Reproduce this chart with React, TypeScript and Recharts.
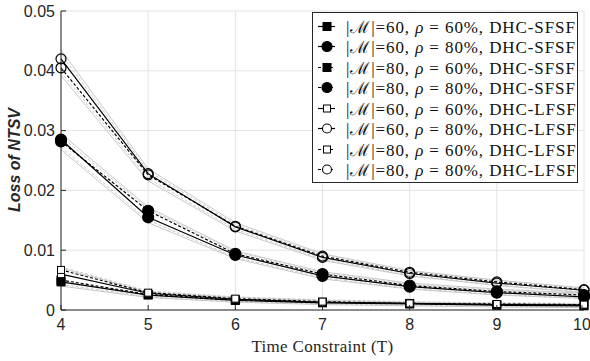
import React from 'react';
import { LineChart, Line, XAxis, YAxis, CartesianGrid } from 'recharts';

const timeT = [4, 5, 6, 7, 8, 9, 10];
const yTicks = [0, 0.01, 0.02, 0.03, 0.04, 0.05];

// main series
const m60r60SFSF = [0.0047, 0.0025, 0.0016, 0.0012, 0.0010, 0.0008, 0.0007];
const m60r80SFSF = [0.0285, 0.0155, 0.0092, 0.0057, 0.0039, 0.0029, 0.0022];
const m80r60SFSF = [0.0050, 0.0026, 0.0017, 0.0013, 0.0011, 0.0009, 0.0008];
const m80r80SFSF = [0.0282, 0.0166, 0.0094, 0.0060, 0.0041, 0.0031, 0.0025];
const m60r60LFSF = [0.0060, 0.0028, 0.0018, 0.0013, 0.0011, 0.0009, 0.0008];
const m60r80LFSF = [0.0420, 0.0228, 0.0139, 0.0088, 0.0061, 0.0045, 0.0033];
const m80r60LFSF = [0.0067, 0.0029, 0.0019, 0.0014, 0.0011, 0.0010, 0.0009];
const m80r80LFSF = [0.0405, 0.0226, 0.0140, 0.0090, 0.0063, 0.0047, 0.0034];

// light gray bound lines
const grayA1 = [0.0435, 0.0236, 0.0146, 0.0094, 0.0066, 0.0050, 0.0037];
const grayA2 = [0.0428, 0.0232, 0.0143, 0.0092, 0.0065, 0.0049, 0.0036];
const grayA3 = [0.0398, 0.0220, 0.0135, 0.0085, 0.0058, 0.0042, 0.0030];
const grayA4 = [0.0392, 0.0216, 0.0132, 0.0083, 0.0057, 0.0041, 0.0029];
const grayB1 = [0.0295, 0.0172, 0.0099, 0.0064, 0.0045, 0.0035, 0.0028];
const grayB2 = [0.0290, 0.0169, 0.0097, 0.0062, 0.0043, 0.0033, 0.0027];
const grayB3 = [0.0272, 0.0150, 0.0088, 0.0054, 0.0036, 0.0026, 0.0020];
const grayB4 = [0.0268, 0.0146, 0.0086, 0.0052, 0.0035, 0.0025, 0.0019];
const grayC1 = [0.0072, 0.0032, 0.0022, 0.0017, 0.0014, 0.0012, 0.0011];
const grayC2 = [0.0070, 0.0030, 0.0021, 0.0016, 0.0013, 0.0011, 0.0010];
const grayC3 = [0.0043, 0.0022, 0.0014, 0.0010, 0.0008, 0.0006, 0.0005];
const grayC4 = [0.0040, 0.0021, 0.0013, 0.0009, 0.0007, 0.0005, 0.0004];

const legendM = ['60', '60', '80', '80', '60', '60', '80', '80'];
const legendRho = ['60', '80', '60', '80', '60', '80', '60', '80'];
const legendAlg = ['DHC-SFSF', 'DHC-SFSF', 'DHC-SFSF', 'DHC-SFSF', 'DHC-LFSF', 'DHC-LFSF', 'DHC-LFSF', 'DHC-LFSF'];

const mainSeries = [
  { key: 's1', data: m60r60SFSF, dashed: false, shape: 'square', filled: true },
  { key: 's2', data: m60r80SFSF, dashed: false, shape: 'circle', filled: true },
  { key: 's3', data: m80r60SFSF, dashed: true, shape: 'square', filled: true },
  { key: 's4', data: m80r80SFSF, dashed: true, shape: 'circle', filled: true },
  { key: 's5', data: m60r60LFSF, dashed: false, shape: 'square', filled: false },
  { key: 's6', data: m60r80LFSF, dashed: false, shape: 'circle', filled: false },
  { key: 's7', data: m80r60LFSF, dashed: true, shape: 'square', filled: false },
  { key: 's8', data: m80r80LFSF, dashed: true, shape: 'circle', filled: false },
];

const graySeries = [
  { key: 'gA1', data: grayA1, dashed: false },
  { key: 'gA2', data: grayA2, dashed: true },
  { key: 'gA3', data: grayA3, dashed: true },
  { key: 'gA4', data: grayA4, dashed: false },
  { key: 'gB1', data: grayB1, dashed: false },
  { key: 'gB2', data: grayB2, dashed: true },
  { key: 'gB3', data: grayB3, dashed: true },
  { key: 'gB4', data: grayB4, dashed: false },
  { key: 'gC1', data: grayC1, dashed: true },
  { key: 'gC2', data: grayC2, dashed: false },
  { key: 'gC3', data: grayC3, dashed: true },
  { key: 'gC4', data: grayC4, dashed: false },
];

const data = timeT.map((t, i) => {
  const row: any = { t };
  mainSeries.forEach((s) => (row[s.key] = s.data[i]));
  graySeries.forEach((s) => (row[s.key] = s.data[i]));
  return row;
});

const AX = '#262626';
const SANS = '"Liberation Sans", Arial, Helvetica, sans-serif';
const SERIF = '"Liberation Serif", "Times New Roman", Times, serif';
const TL = 5; // inward tick length

function Marker({ cx, cy, shape, filled }: any) {
  if (cx == null || cy == null) return null;
  if (shape === 'square') {
    const s = filled ? 8 : 7;
    return (
      <rect x={cx - s / 2} y={cy - s / 2} width={s} height={s}
        fill={filled ? '#000' : '#fff'} stroke="#000" strokeWidth={1} />
    );
  }
  return (
    <circle cx={cx} cy={cy} r={filled ? 5.5 : 5} fill={filled ? '#000' : 'none'} stroke="#000" strokeWidth={1.2} />
  );
}

function BottomTick({ x, y, payload }: any) {
  const ay = y - 9;
  return (
    <g>
      <line x1={x} x2={x} y1={ay} y2={ay - TL} stroke={AX} strokeWidth={1} />
      <text x={x} y={y} dy="0.71em" textAnchor="middle" fill={AX} style={{ fontFamily: SANS, fontSize: 16 }}>{payload.value}</text>
    </g>
  );
}

function LeftTick({ x, y, payload }: any) {
  const ax = x + 6;
  const v = payload.value;
  return (
    <g>
      <line x1={ax} x2={ax + TL} y1={y} y2={y} stroke={AX} strokeWidth={1} />
      <text x={x} y={y} dy="0.355em" textAnchor="end" fill={AX} style={{ fontFamily: SANS, fontSize: 16 }}>{v === 0 ? '0' : v.toFixed(2)}</text>
    </g>
  );
}

function TopTick({ x, y }: any) {
  return <line x1={x} x2={x} y1={y} y2={y + TL} stroke={AX} strokeWidth={1} />;
}

function RightTick({ x, y }: any) {
  return <line x1={x} x2={x - TL} y1={y} y2={y} stroke={AX} strokeWidth={1} />;
}

function LegendBox() {
  return (
    <div style={{
      position: 'absolute', left: 312, top: 12,
      border: '1px solid #262626', background: '#fff', width: 266, height: 171,
      boxSizing: 'border-box', paddingTop: 3, fontFamily: SERIF, fontSize: 17,
      letterSpacing: 0.9, color: '#111',
    }}>
      {mainSeries.map((s, i) => (
        <div key={s.key} style={{ height: 20.5, display: 'flex', alignItems: 'center', whiteSpace: 'nowrap' }}>
          <svg width={33} height={21} style={{ flex: 'none' }}>
            <line x1={5} x2={22} y1={10.5} y2={10.5} stroke="#000" strokeWidth={1.2} strokeDasharray={s.dashed ? '3 3' : undefined} />
            {s.shape === 'square' ? (
              <rect x={s.filled ? 10 : 10.5} y={s.filled ? 6.5 : 7} width={s.filled ? 8 : 7} height={s.filled ? 8 : 7}
                fill={s.filled ? '#000' : '#fff'} stroke="#000" strokeWidth={1} />
            ) : (
              <circle cx={14} cy={10.5} r={s.filled ? 5 : 4.5} fill={s.filled ? '#000' : '#fff'} stroke="#000" strokeWidth={1.1} />
            )}
          </svg>
          <span>|ℳ|={legendM[i]}, <i>ρ</i> = {legendRho[i]}%, {legendAlg[i]}</span>
        </div>
      ))}
    </div>
  );
}

export default function App() {
  return (
    <div style={{ position: 'absolute', left: 0, top: 0, width: 590, height: 361, background: '#fff' }}>
      <LineChart width={590} height={361} data={data} margin={{ top: 11, right: 6, left: 0, bottom: 0 }}>
        <CartesianGrid stroke="#e3e3e3" strokeWidth={1} />
        <XAxis dataKey="t" type="number" domain={[4, 10]} ticks={timeT} height={51}
          stroke={AX} tickLine={false} tickSize={0} tickMargin={9} tick={<BottomTick />}
          label={{
            content: ({ viewBox }: any) => (
              <text x={viewBox.x + viewBox.width / 2} y={352} textAnchor="middle"
                style={{ fontFamily: SERIF, fontSize: 17, letterSpacing: 0.3 }} fill={AX}>Time Constraint (T)</text>
            ),
          }}
        />
        <XAxis xAxisId="top" orientation="top" type="number" domain={[4, 10]} ticks={timeT} height={0}
          stroke={AX} tickLine={false} tickSize={0} tickMargin={0} tick={<TopTick />} />
        <YAxis type="number" domain={[0, 0.05]} ticks={yTicks} width={61}
          stroke={AX} tickLine={false} tickSize={0} tickMargin={6} tick={<LeftTick />}
          label={{
            content: () => (
              <text x={20} y={160} transform="rotate(-90 20 160)" textAnchor="middle"
                style={{ fontFamily: SANS, fontSize: 16, fontWeight: 'bold', fontStyle: 'italic' }} fill={AX}>Loss of NTSV</text>
            ),
          }}
        />
        <YAxis yAxisId="right" orientation="right" type="number" domain={[0, 0.05]} ticks={yTicks} width={0}
          stroke={AX} tickLine={false} tickSize={0} tickMargin={0} tick={<RightTick />} />
        {graySeries.map((s) => (
          <Line key={s.key} dataKey={s.key} stroke="#c8c8c8" strokeWidth={1}
            strokeDasharray={s.dashed ? '3 2' : undefined} dot={false} activeDot={false}
            isAnimationActive={false} legendType="none" />
        ))}
        {mainSeries.map((s) => (
          <Line key={s.key} dataKey={s.key} stroke="#000" strokeWidth={1.2}
            strokeDasharray={s.dashed ? '3 2' : undefined}
            dot={(p: any) => <Marker key={`${s.key}-${p.index}`} cx={p.cx} cy={p.cy} shape={s.shape} filled={s.filled} />}
            activeDot={false} isAnimationActive={false} />
        ))}
      </LineChart>
      <LegendBox />
    </div>
  );
}
